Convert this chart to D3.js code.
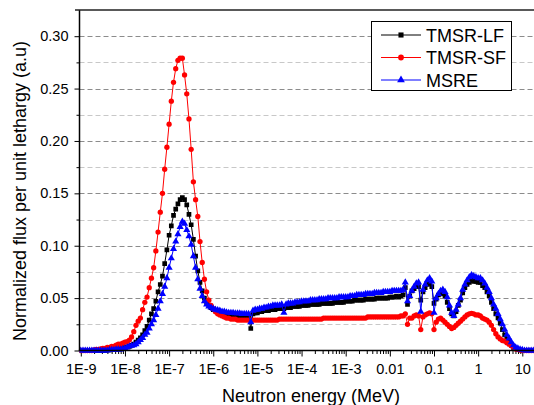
<!DOCTYPE html>
<html>
<head>
<meta charset="utf-8">
<script src="https://cdn.jsdelivr.net/npm/d3@7"></script>
<style>
	body { margin: 0; background: #fff; }
	svg { display: block; font-family: "Liberation Sans", Arial, sans-serif; }
</style>
</head>
<body>
<svg id="chart" width="534" height="405"></svg>
<script>
// energy grid: log10(E / MeV), one point every 0.05 decade from 1E-9 to 20 MeV
var logEnergy = d3.range(207).map(function(i) { return -9 + i * 0.05; });

var seriesNames = [ "TMSR-LF", "TMSR-SF", "MSRE" ];

var fluxLF = [
	0, 0, 0, 0, 0, 0, 0, 0, 0, 0, 0, 0, 0.0005, 0.0005, 0.001, 0.001, 0.001, 0.0015, 0.0015, 0.002,
	0.003, 0.0035, 0.004, 0.005, 0.006, 0.008, 0.010, 0.012, 0.015, 0.019, 0.023, 0.029, 0.035, 0.040, 0.047, 0.056, 0.063, 0.071, 0.083, 0.096,
	0.110, 0.119, 0.129, 0.135, 0.140, 0.144, 0.146, 0.144, 0.139, 0.130, 0.120, 0.106, 0.090, 0.076, 0.065, 0.057, 0.050, 0.046, 0.043, 0.041,
	0.039, 0.038, 0.037, 0.036, 0.035, 0.035, 0.034, 0.034, 0.034, 0.033, 0.033, 0.033, 0.033, 0.033, 0.033, 0.033, 0.033, 0.021, 0.035, 0.036,
	0.036, 0.037, 0.037, 0.038, 0.038, 0.038, 0.039, 0.039, 0.039, 0.040, 0.040, 0.040, 0.040, 0.041, 0.041, 0.041, 0.042, 0.042, 0.042, 0.042,
	0.043, 0.043, 0.043, 0.043, 0.044, 0.044, 0.044, 0.044, 0.044, 0.045, 0.045, 0.045, 0.045, 0.045, 0.045, 0.046, 0.046, 0.046, 0.046, 0.046,
	0.047, 0.047, 0.047, 0.047, 0.048, 0.048, 0.048, 0.048, 0.048, 0.049, 0.049, 0.049, 0.049, 0.049, 0.050, 0.050, 0.050, 0.050, 0.050, 0.050,
	0.051, 0.051, 0.051, 0.052, 0.051, 0.052, 0.053, 0.060, 0.044, 0.052, 0.057, 0.059, 0.061, 0.061, 0.048, 0.056, 0.060, 0.063, 0.064, 0.061,
	0.045, 0.049, 0.053, 0.054, 0.055, 0.052, 0.046, 0.040, 0.035, 0.033, 0.037, 0.043, 0.048, 0.055, 0.060, 0.063, 0.065, 0.067, 0.066, 0.066,
	0.065, 0.065, 0.062, 0.060, 0.056, 0.052, 0.046, 0.040, 0.035, 0.031, 0.026, 0.020, 0.015, 0.011, 0.008, 0.005, 0.003, 0.002, 0.001, 0.0005,
	0, 0, 0, 0, 0, 0, 0
];

var fluxSF = [
	0, 0, 0, 0, 0, 0, 0.0005, 0.001, 0.001, 0.0015, 0.002, 0.002, 0.003, 0.003, 0.004, 0.004, 0.005, 0.006, 0.006, 0.007,
	0.008, 0.0085, 0.010, 0.013, 0.018, 0.024, 0.028, 0.031, 0.039, 0.046, 0.051, 0.060, 0.069, 0.079, 0.095, 0.113, 0.132, 0.150, 0.173, 0.194,
	0.216, 0.238, 0.256, 0.269, 0.277, 0.279, 0.279, 0.263, 0.245, 0.221, 0.192, 0.161, 0.144, 0.128, 0.104, 0.084, 0.068, 0.056, 0.048, 0.043,
	0.040, 0.037, 0.035, 0.034, 0.033, 0.032, 0.031, 0.031, 0.030, 0.030, 0.030, 0.029, 0.029, 0.029, 0.029, 0.029, 0.029, 0.029, 0.029, 0.029,
	0.029, 0.029, 0.029, 0.029, 0.029, 0.029, 0.029, 0.029, 0.029, 0.029, 0.030, 0.030, 0.030, 0.030, 0.030, 0.030, 0.030, 0.030, 0.030, 0.030,
	0.030, 0.030, 0.030, 0.030, 0.030, 0.030, 0.030, 0.030, 0.030, 0.030, 0.031, 0.031, 0.031, 0.031, 0.031, 0.031, 0.031, 0.031, 0.031, 0.031,
	0.031, 0.031, 0.031, 0.031, 0.031, 0.031, 0.031, 0.031, 0.031, 0.031, 0.032, 0.032, 0.032, 0.032, 0.032, 0.032, 0.032, 0.032, 0.032, 0.032,
	0.032, 0.032, 0.032, 0.032, 0.032, 0.033, 0.033, 0.035, 0.025, 0.031, 0.031, 0.033, 0.034, 0.033, 0.020, 0.032, 0.034, 0.035, 0.036, 0.035,
	0.020, 0.027, 0.030, 0.031, 0.029, 0.027, 0.025, 0.023, 0.021, 0.022, 0.024, 0.026, 0.028, 0.030, 0.032, 0.034, 0.035, 0.0355, 0.035, 0.034,
	0.034, 0.033, 0.031, 0.030, 0.029, 0.027, 0.024, 0.020, 0.016, 0.013, 0.011, 0.0095, 0.009, 0.0075, 0.006, 0.0045, 0.003, 0.0015, 0.001, 0.0005,
	0, 0, 0, 0, 0, 0, 0
];

var fluxMSRE = [
	0, 0, 0, 0, 0, 0, 0, 0, 0, 0, 0, 0, 0, 0.0005, 0.0005, 0.0005, 0.001, 0.001, 0.001, 0.0015,
	0.002, 0.003, 0.004, 0.0045, 0.005, 0.006, 0.008, 0.010, 0.012, 0.015, 0.017, 0.021, 0.025, 0.029, 0.034, 0.040, 0.047, 0.054, 0.061, 0.069,
	0.079, 0.088, 0.097, 0.104, 0.111, 0.118, 0.123, 0.121, 0.115, 0.109, 0.101, 0.090, 0.079, 0.068, 0.059, 0.052, 0.047, 0.044, 0.042, 0.041,
	0.040, 0.039, 0.0385, 0.038, 0.037, 0.037, 0.0365, 0.036, 0.036, 0.036, 0.0355, 0.0355, 0.0355, 0.035, 0.035, 0.035, 0.035, 0.027, 0.038, 0.039,
	0.039, 0.040, 0.040, 0.041, 0.041, 0.042, 0.042, 0.043, 0.043, 0.043, 0.043, 0.044, 0.036, 0.044, 0.045, 0.045, 0.045, 0.046, 0.046, 0.046,
	0.047, 0.047, 0.047, 0.047, 0.048, 0.048, 0.048, 0.048, 0.049, 0.049, 0.049, 0.049, 0.050, 0.050, 0.050, 0.050, 0.050, 0.051, 0.051, 0.051,
	0.051, 0.051, 0.052, 0.052, 0.052, 0.053, 0.053, 0.053, 0.053, 0.054, 0.054, 0.054, 0.054, 0.055, 0.055, 0.055, 0.055, 0.056, 0.056, 0.056,
	0.056, 0.057, 0.057, 0.057, 0.057, 0.057, 0.058, 0.065, 0.047, 0.052, 0.057, 0.061, 0.064, 0.065, 0.037, 0.058, 0.063, 0.067, 0.069, 0.066,
	0.036, 0.050, 0.054, 0.057, 0.058, 0.056, 0.051, 0.043, 0.036, 0.033, 0.039, 0.044, 0.050, 0.058, 0.063, 0.067, 0.070, 0.072, 0.071, 0.070,
	0.069, 0.069, 0.067, 0.064, 0.060, 0.056, 0.050, 0.044, 0.040, 0.035, 0.030, 0.025, 0.020, 0.015, 0.0115, 0.008, 0.005, 0.003, 0.002, 0.001,
	0.0005, 0, 0, 0, 0, 0, 0
];

var xTicks = [ 1e-9, 1e-8, 1e-7, 1e-6, 1e-5, 1e-4, 1e-3, 1e-2, 1e-1, 1, 10 ];
var xTickLabels = [ "1E-9", "1E-8", "1E-7", "1E-6", "1E-5", "1E-4", "1E-3", "0.01", "0.1", "1", "10" ];
var yTicks = [ 0, 0.05, 0.10, 0.15, 0.20, 0.25, 0.30 ];
var yMinorTicks = [ 0.025, 0.075, 0.125, 0.175, 0.225, 0.275 ];

(function() {
	var svg = d3.select("#chart");

	var plotLeft = 79.5, plotRight = 540, plotTop = 10, plotBottom = 350.5;

	var x = d3.scaleLog().domain([ 1e-9, 10 ]).range([ 80.8, 522.3 ]);
	var y = d3.scaleLinear().domain([ 0, 0.325 ]).range([ plotBottom, plotTop ]);

	// minor x ticks: 2..9 in each decade
	var xMinorTicks = [];
	xTicks.concat([ 100 ]).forEach(function(t) {
		for (var k = 2; k <= 9; k++) {
			xMinorTicks.push(t * k);
		}
	});
	xMinorTicks = xMinorTicks.filter(function(t) { return x(t) < 534; });

	svg.append("clipPath").attr("id", "plotClip").append("rect")//
	.attr("x", plotLeft).attr("y", plotTop).attr("width", plotRight - plotLeft).attr("height", plotBottom - plotTop + 4);

	// grid lines
	svg.append("g").selectAll("line").data(yTicks.slice(1).concat(yMinorTicks)).enter().append("line")//
	.attr("x1", plotLeft).attr("x2", plotRight)//
	.attr("y1", function(d) { return Math.round(y(d)) + 0.5; })//
	.attr("y2", function(d) { return Math.round(y(d)) + 0.5; })//
	.attr("stroke", function(d) { return yTicks.indexOf(d) >= 0 ? "#8c8c8c" : "#c8c8c8"; })//
	.attr("stroke-dasharray", "5,3");

	// x axis
	var xAxis = svg.append("g").attr("transform", "translate(0," + plotBottom + ")")//
	.call(d3.axisBottom(x).tickValues(xTicks).tickSize(6).tickSizeOuter(0)//
	.tickFormat(function(d, i) { return xTickLabels[i]; }));
	xAxis.select(".domain").remove();
	xAxis.selectAll("text").attr("font-size", 14.5).attr("font-family", "Liberation Sans, Arial, sans-serif")//
	.attr("fill", "#000").attr("dy", null).attr("y", 23.5);
	svg.append("g").attr("transform", "translate(0," + plotBottom + ")")//
	.call(d3.axisBottom(x).tickValues(xMinorTicks).tickSize(3.5).tickFormat(""))//
	.select(".domain").remove();

	// y axis
	var yAxis = svg.append("g").attr("transform", "translate(" + plotLeft + ",0)")//
	.call(d3.axisLeft(y).tickValues(yTicks).tickSize(5).tickSizeOuter(0)//
	.tickFormat(function(d) { return d.toFixed(2); }));
	yAxis.select(".domain").remove();
	yAxis.selectAll("text").attr("font-size", 14.5).attr("font-family", "Liberation Sans, Arial, sans-serif")//
	.attr("fill", "#000").attr("x", -11);
	svg.append("g").attr("transform", "translate(" + plotLeft + ",0)")//
	.call(d3.axisLeft(y).tickValues(yMinorTicks).tickSize(3).tickFormat(""))//
	.select(".domain").remove();

	var series = [
		{ name: seriesNames[0], values: fluxLF, color: "#000000", shape: d3.symbolSquare, size: 22 },
		{ name: seriesNames[1], values: fluxSF, color: "#ff0000", shape: d3.symbolCircle, size: 22 },
		{ name: seriesNames[2], values: fluxMSRE, color: "#0000ff", shape: d3.symbolTriangle, size: 22 }
	];

	var line = d3.line()//
	.x(function(d) { return x(Math.pow(10, d[0])); })//
	.y(function(d) { return y(d[1]); });

	var plot = svg.append("g").attr("clip-path", "url(#plotClip)");

	series.forEach(function(s) {
		var pts = logEnergy.map(function(e, i) { return [ e, s.values[i] ]; });
		var g = plot.append("g");
		g.append("path").datum(pts).attr("d", line)//
		.attr("fill", "none").attr("stroke", s.color).attr("stroke-width", 1);
		g.selectAll("path.pt").data(pts).enter().append("path")//
		.attr("class", "pt")//
		.attr("d", d3.symbol().type(s.shape).size(s.size))//
		.attr("transform", function(d) {
			return "translate(" + line.x()(d) + "," + line.y()(d) + ")";
		})//
		.attr("fill", s.color);
	});

	// frame lines
	svg.append("line").attr("x1", plotLeft).attr("x2", plotLeft).attr("y1", plotTop).attr("y2", plotBottom)//
	.attr("stroke", "#000").attr("stroke-width", 1.5);
	svg.append("line").attr("x1", plotLeft - 0.75).attr("x2", plotRight).attr("y1", plotBottom).attr("y2", plotBottom)//
	.attr("stroke", "#000").attr("stroke-width", 1.5);
	svg.append("line").attr("x1", 75).attr("x2", plotRight).attr("y1", plotTop).attr("y2", plotTop)//
	.attr("stroke", "#222").attr("stroke-width", 1.5);

	// legend
	var legend = svg.append("g");
	legend.append("rect").attr("x", 371.5).attr("y", 21.5).attr("width", 140).attr("height", 69)//
	.attr("fill", "#fff").attr("stroke", "#000").attr("stroke-width", 1);
	var legendY = [ 35, 57.5, 80 ];
	series.forEach(function(s, i) {
		legend.append("line").attr("x1", 381).attr("x2", 421)//
		.attr("y1", legendY[i]).attr("y2", legendY[i])//
		.attr("stroke", s.color).attr("stroke-width", 1);
		legend.append("path").attr("d", d3.symbol().type(s.shape).size(s.size + 4))//
		.attr("transform", "translate(401," + legendY[i] + ")").attr("fill", s.color);
		legend.append("text").attr("x", 426).attr("y", legendY[i] + 6.5)//
		.attr("font-size", 18).text(s.name);
	});

	// axis titles
	svg.append("text").attr("x", 311).attr("y", 401.5).attr("text-anchor", "middle")//
	.attr("font-size", 18).text("Neutron energy (MeV)");
	svg.append("text").attr("transform", "translate(26,191) rotate(-90)").attr("text-anchor", "middle")//
	.attr("font-size", 18).text("Normalized flux per unit lethargy (a.u)");
})();
</script>
</body>
</html>
